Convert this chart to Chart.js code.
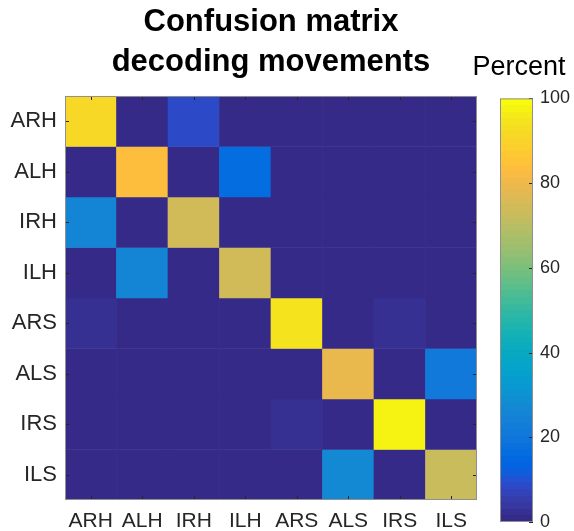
<!DOCTYPE html>
<html>
<head>
<meta charset="utf-8">
<script src="https://cdn.jsdelivr.net/npm/chart.js@4/dist/chart.umd.min.js"></script>
<style>
  body { margin: 0; background: #fff; }
  #wrap { position: relative; width: 574px; height: 531px; }
  #matrix { position: absolute; left: 0; top: 0; }
  #cbar { position: absolute; left: 464px; top: 0; }
</style>
</head>
<body>
<div id="wrap">
  <canvas id="matrix" width="542" height="531"></canvas>
  <canvas id="cbar" width="110" height="531"></canvas>
</div>
<script>
// true class (rows) vs decoded class (columns), percent of trials
var classNames = ['ARH', 'ALH', 'IRH', 'ILH', 'ARS', 'ALS', 'IRS', 'ILS'];
var rowARH = [91, 0, 9, 0, 0, 0, 0, 0];
var rowALH = [0, 83, 0, 17, 0, 0, 0, 0];
var rowIRH = [26, 0, 74, 0, 0, 0, 0, 0];
var rowILH = [0, 26, 0, 74, 0, 0, 0, 0];
var rowARS = [3, 0, 0, 0, 94, 0, 3, 0];
var rowALS = [0, 0, 0, 0, 0, 79, 0, 21];
var rowIRS = [0, 0, 0, 0, 3, 0, 97, 0];
var rowILS = [0, 0, 0, 0, 0, 28, 0, 72];
var percentTicks = [0, 20, 40, 60, 80, 100];

var rows = [rowARH, rowALH, rowIRH, rowILH, rowARS, rowALS, rowIRS, rowILS];

// matlab parula, 64 entries
var parula = [
 [0.2081,0.1663,0.5292],[0.2116,0.1898,0.5777],[0.2123,0.2138,0.6270],[0.2081,0.2386,0.6771],
 [0.1959,0.2645,0.7279],[0.1707,0.2919,0.7792],[0.1253,0.3242,0.8303],[0.0591,0.3598,0.8683],
 [0.0117,0.3875,0.8820],[0.0060,0.4086,0.8828],[0.0165,0.4266,0.8786],[0.0329,0.4430,0.8720],
 [0.0498,0.4586,0.8641],[0.0629,0.4737,0.8554],[0.0723,0.4887,0.8467],[0.0779,0.5040,0.8384],
 [0.0793,0.5200,0.8312],[0.0749,0.5375,0.8263],[0.0641,0.5570,0.8240],[0.0488,0.5772,0.8228],
 [0.0343,0.5966,0.8199],[0.0265,0.6137,0.8135],[0.0239,0.6287,0.8038],[0.0231,0.6418,0.7913],
 [0.0228,0.6535,0.7768],[0.0267,0.6642,0.7607],[0.0384,0.6743,0.7436],[0.0590,0.6838,0.7254],
 [0.0843,0.6928,0.7062],[0.1133,0.7015,0.6859],[0.1453,0.7098,0.6646],[0.1801,0.7177,0.6424],
 [0.2178,0.7250,0.6193],[0.2586,0.7317,0.5954],[0.3022,0.7376,0.5712],[0.3482,0.7424,0.5473],
 [0.3953,0.7459,0.5244],[0.4420,0.7481,0.5033],[0.4871,0.7491,0.4840],[0.5300,0.7491,0.4661],
 [0.5709,0.7485,0.4494],[0.6099,0.7473,0.4337],[0.6473,0.7456,0.4188],[0.6834,0.7435,0.4044],
 [0.7184,0.7411,0.3905],[0.7525,0.7384,0.3768],[0.7858,0.7356,0.3633],[0.8185,0.7327,0.3498],
 [0.8507,0.7299,0.3360],[0.8824,0.7274,0.3217],[0.9139,0.7258,0.3063],[0.9450,0.7261,0.2886],
 [0.9739,0.7314,0.2666],[0.9938,0.7455,0.2403],[0.9990,0.7653,0.2164],[0.9955,0.7861,0.1967],
 [0.9880,0.8066,0.1794],[0.9789,0.8271,0.1633],[0.9697,0.8481,0.1475],[0.9626,0.8705,0.1309],
 [0.9589,0.8949,0.1132],[0.9598,0.9218,0.0948],[0.9661,0.9514,0.0755],[0.9763,0.9831,0.0538]
];

function rgbOf(c) {
  return 'rgb(' + Math.round(c[0]*255) + ',' + Math.round(c[1]*255) + ',' + Math.round(c[2]*255) + ')';
}
function colorFor(v) {
  var i = Math.min(63, Math.floor(v / 100 * 64));
  return rgbOf(parula[i]);
}

var fontFam = 'Liberation Sans, Arial, sans-serif';
var textColor = '#262626';
var boxColor = '#8f8f8f';

// blank axis used only to reserve space beside the plot
function spacer(pos, w) {
  return {
    type: 'linear', position: pos, display: true,
    grid: { display: false, drawTicks: false },
    border: { display: false },
    ticks: { display: false },
    afterFit: function(s) { s.width = w; }
  };
}

// box outline + inward ticks like matlab axes
var boxTicks = {
  id: 'boxTicks',
  afterDraw: function(chart, args, opts) {
    var ctx = chart.ctx, a = chart.chartArea;
    var len = opts.len || 4;
    ctx.save();
    ctx.lineWidth = 1;
    ctx.strokeStyle = opts.tickColor || textColor;
    ctx.beginPath();
    (opts.xScale ? chart.scales[opts.xScale].ticks : []).forEach(function(t, i) {
      var x = Math.round(chart.scales[opts.xScale].getPixelForTick(i)) + 0.5;
      ctx.moveTo(x, a.bottom); ctx.lineTo(x, a.bottom - len);
      ctx.moveTo(x, a.top); ctx.lineTo(x, a.top + len);
    });
    (opts.yScale ? chart.scales[opts.yScale].ticks : []).forEach(function(t, i) {
      var y = Math.round(chart.scales[opts.yScale].getPixelForTick(i)) + 0.5;
      if (opts.leftTicks !== false) { ctx.moveTo(a.left, y); ctx.lineTo(a.left + len, y); }
      ctx.moveTo(a.right, y); ctx.lineTo(a.right - len, y);
    });
    ctx.stroke();
    ctx.strokeStyle = boxColor;
    ctx.strokeRect(a.left + 0.5, a.top + 0.5, a.right - a.left - 1, a.bottom - a.top - 1);
    ctx.restore();
  }
};

// one floating-bar dataset per true class, each cell spans [row, row+1]
var cellSets = rows.map(function(r, ri) {
  return {
    label: classNames[ri],
    data: r.map(function() { return [ri, ri + 1]; }),
    backgroundColor: r.map(colorFor),
    borderWidth: 0,
    barPercentage: 1.0,
    categoryPercentage: 1.0,
    grouped: false
  };
});

new Chart(document.getElementById('matrix'), {
  type: 'bar',
  data: { labels: classNames, datasets: cellSets },
  options: {
    responsive: false,
    animation: false,
    layout: { padding: 0 },
    plugins: {
      legend: { display: false },
      tooltip: { enabled: false },
      title: {
        display: true,
        text: ['Confusion matrix', 'decoding movements'],
        color: '#000',
        font: { family: fontFam, size: 31, weight: 'bold', lineHeight: 1.29 },
        padding: { top: 2, bottom: 14 }
      },
      boxTicks: { xScale: 'x', yScale: 'y', len: 4 }
    },
    scales: {
      x: {
        grid: { display: false, drawTicks: false },
        border: { display: false },
        ticks: { color: textColor, padding: 9, maxRotation: 0, autoSkip: false,
                 font: { family: fontFam, size: 21 } },
        afterFit: function(s) { s.height = 31; }
      },
      y: {
        type: 'linear', min: 0, max: 8, reverse: true,
        grid: { display: false, drawTicks: false },
        border: { display: false },
        afterBuildTicks: function(s) {
          s.ticks = classNames.map(function(n, i) { return { value: i + 0.5 }; });
        },
        ticks: {
          color: textColor, padding: 8, autoSkip: false,
          font: { family: fontFam, size: 22 },
          callback: function(v, i) { return classNames[i]; }
        },
        afterFit: function(s) { s.width = 65; }
      },
      // empty right margin so the title centres over the whole figure
      yPad: spacer('right', 65)
    }
  },
  plugins: [boxTicks]
});

// colour scale bar, filled with the same parula ramp
new Chart(document.getElementById('cbar'), {
  type: 'bar',
  data: {
    labels: [''],
    datasets: [{
      data: [[percentTicks[0], percentTicks[percentTicks.length - 1]]],
      yAxisID: 'y',
      barPercentage: 1.0,
      categoryPercentage: 1.0,
      borderWidth: 0,
      backgroundColor: function(ctx) {
        var a = ctx.chart.chartArea;
        if (!a) return rgbOf(parula[0]);
        var g = ctx.chart.ctx.createLinearGradient(0, a.bottom, 0, a.top);
        parula.forEach(function(c, i) {
          g.addColorStop(i / 64, rgbOf(c));
          g.addColorStop((i + 1) / 64, rgbOf(c));
        });
        return g;
      }
    }]
  },
  options: {
    responsive: false,
    animation: false,
    layout: { padding: { left: 0, right: 0, top: 0, bottom: 9 } },
    plugins: {
      legend: { display: false },
      tooltip: { enabled: false },
      title: {
        display: true,
        text: 'Percent',
        color: '#000',
        font: { family: fontFam, size: 27, weight: 'normal', lineHeight: 1.2 },
        padding: { top: 51, bottom: 15 }
      },
      boxTicks: { yScale: 'y', len: 4, leftTicks: false }
    },
    scales: {
      x: { display: false },
      y: {
        position: 'right',
        min: 0, max: 100,
        grid: { display: false, drawTicks: false },
        border: { display: false },
        afterBuildTicks: function(s) {
          s.ticks = percentTicks.map(function(v) { return { value: v }; });
        },
        ticks: { color: textColor, padding: 7,
                 font: { family: fontFam, size: 18 } },
        afterFit: function(s) { s.width = 41; s.paddingTop = 0; s.paddingBottom = 0; }
      },
      yLeftPad: spacer('left', 36)
    }
  },
  plugins: [boxTicks]
});
</script>
</body>
</html>
